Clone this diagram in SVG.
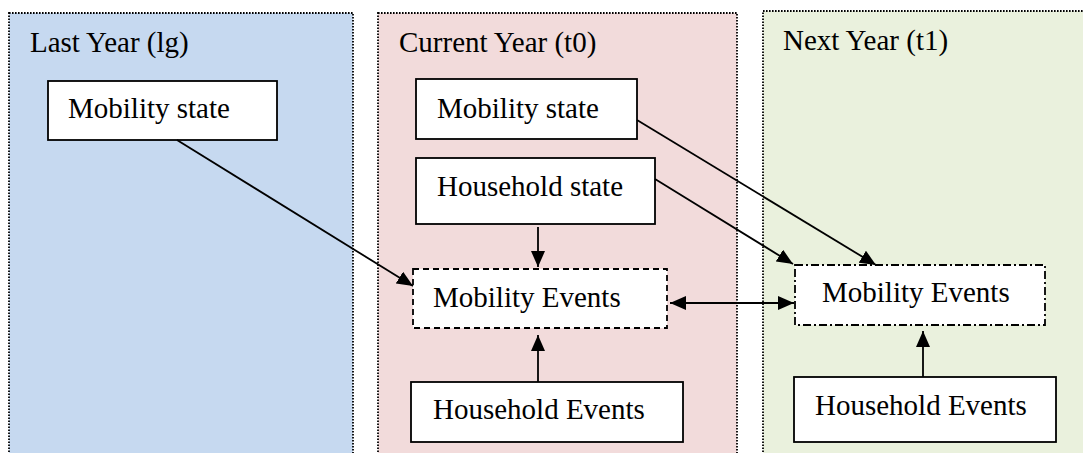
<svg xmlns="http://www.w3.org/2000/svg" width="1083" height="453" viewBox="0 0 1083 453">
<style>
.panel{stroke:#000;stroke-width:1.8;stroke-dasharray:1.6 1.4}
.box{fill:#fff;stroke:#000;stroke-width:1.8}
.dash{stroke-dasharray:6 4}
.dashdot{stroke-dasharray:8 3 2 3}
.t{font-family:"Liberation Serif","Times New Roman",serif;font-size:29px;fill:#000}
.c{stroke:#000;stroke-width:1.8;fill:none}
</style>
<defs>
<marker id="ah" viewBox="0 0 16 14" refX="16" refY="7" markerWidth="16" markerHeight="14" markerUnits="userSpaceOnUse" orient="auto-start-reverse">
<path d="M0,0 L16,7 L0,14 Z" fill="#000"/>
</marker>
</defs>
<rect width="1083" height="453" fill="#fff"/>
<g id="panel-lg">
<rect class="panel" x="9" y="13" width="344" height="450" fill="#C6D9F0"/>
<text class="t" x="30" y="52">Last Year (lg)</text>
</g>
<g id="panel-t0">
<rect class="panel" x="378" y="13" width="359" height="450" fill="#F2DBDB"/>
<text class="t" x="399" y="52">Current Year (t0)</text>
</g>
<g id="panel-t1">
<rect class="panel" x="763" y="11" width="330" height="450" fill="#EAF1DD"/>
<text class="t" x="783" y="50">Next Year (t1)</text>
</g>
<g id="lg-mobility-state">
<rect class="box" x="48" y="81" width="229" height="59"/>
<text class="t" x="68" y="118">Mobility state</text>
</g>
<g id="t0-mobility-state">
<rect class="box" x="416" y="79" width="221" height="60"/>
<text class="t" x="437" y="118">Mobility state</text>
</g>
<g id="t0-household-state">
<rect class="box" x="416" y="158" width="239" height="66"/>
<text class="t" x="437" y="196">Household state</text>
</g>
<g id="t0-mobility-events">
<rect class="box dash" x="413" y="269" width="254" height="59"/>
<text class="t" x="433" y="307">Mobility Events</text>
</g>
<g id="t0-household-events">
<rect class="box" x="411" y="382" width="272" height="60"/>
<text class="t" x="433" y="419">Household Events</text>
</g>
<g id="t1-mobility-events">
<rect class="box dashdot" x="795" y="265" width="250" height="60"/>
<text class="t" x="822" y="302">Mobility Events</text>
</g>
<g id="t1-household-events">
<rect class="box" x="794" y="377" width="262" height="65"/>
<text class="t" x="815" y="415">Household Events</text>
</g>
<g id="connectors">
<line class="c" x1="177" y1="140" x2="413" y2="286" marker-end="url(#ah)"/>
<line class="c" x1="538" y1="227" x2="538" y2="267" marker-end="url(#ah)"/>
<line class="c" x1="538" y1="382" x2="538" y2="335" marker-end="url(#ah)"/>
<line class="c" x1="670" y1="303" x2="794" y2="303" marker-start="url(#ah)" marker-end="url(#ah)"/>
<line class="c" x1="637" y1="120" x2="876" y2="265" marker-end="url(#ah)"/>
<line class="c" x1="655" y1="179" x2="793" y2="264" marker-end="url(#ah)"/>
<line class="c" x1="923" y1="377" x2="923" y2="331" marker-end="url(#ah)"/>
</g>
</svg>
